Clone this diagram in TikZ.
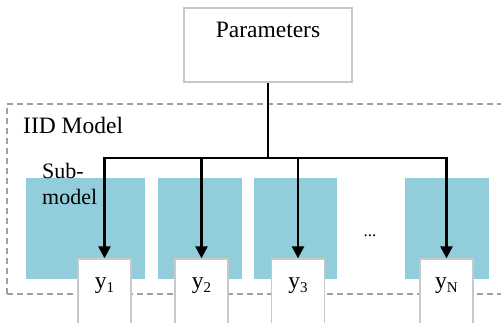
\documentclass[tikz,border=0pt]{standalone}
\usepackage{fontspec}
\setmainfont{Liberation Serif}
\usetikzlibrary{arrows.meta,positioning}
\definecolor{subteal}{HTML}{92CDDC}
\definecolor{boxgray}{HTML}{C8C8C8}
\definecolor{dashgray}{HTML}{A0A0A0}

\begin{document}
\begin{tikzpicture}[
    x=1pt, y=-1pt,
    every node/.style={font=\fontsize{23.5}{28}\selectfont},
    parbox/.style={rectangle, draw=boxgray, line width=1.8pt, fill=white, minimum width=168pt, inner sep=0pt, text height=30pt, text depth=44pt},
    iidbox/.style={rectangle, draw=dashgray, dashed, line width=1.3pt, dash pattern=on 6pt off 4pt, minimum width=498pt, minimum height=190pt, inner sep=0pt},
    subbox/.style={rectangle, fill=subteal, minimum height=101pt, inner sep=0pt},
    obsbox/.style={rectangle, draw=boxgray, line width=1.3pt, fill=white, minimum width=53pt, minimum height=90pt, inner sep=0pt},
    obslabel/.style={anchor=base, inner sep=0pt},
    arrow/.style={-{Triangle[length=12pt,width=12pt]}, line width=2.4pt},
    link/.style={line width=2.4pt}
]
    \useasboundingbox (0,0) rectangle (501,323);
    \clip (0,0) rectangle (501,323);

    % Parameter
    \node[parbox] (params) at (268,45) {Parameters};

    % IID-Modell
    \node[iidbox] (iid) at (256,199) {};
    \node[anchor=base west, inner sep=0pt] (iidlabel) at (23,134) {IID Model};

    % Teilmodelle
    \node[subbox, minimum width=119pt] (sub1) at (85.5,228.5) {};
    \node[subbox, minimum width=84pt] (sub2) at (200,228.5) {};
    \node[subbox, minimum width=83pt] (sub3) at (295.5,228.5) {};
    \node[subbox, minimum width=84pt] (subN) at (447,228.5) {};
    \node[anchor=base west, align=left, inner sep=0pt, font=\fontsize{22}{26}\selectfont] (sublabel) at (42,205) {Sub-\\model};
    \node[font=\fontsize{17}{17}\selectfont] (dots) at (370,236) {...};

    % Beobachtungen
    \node[obsbox] (y1) at (104.5,304) {};
    \node[obsbox] (y2) at (201.5,304) {};
    \node[obsbox] (y3) at (298,304) {};
    \node[obsbox] (yN) at (446.5,304) {};
    \node[obslabel] (y1t) at (104.5,289) {y\raisebox{-0.3ex}{\fontsize{15}{15}\selectfont 1}};
    \node[obslabel] (y2t) at (201.5,289) {y\raisebox{-0.3ex}{\fontsize{15}{15}\selectfont 2}};
    \node[obslabel] (y3t) at (298,289) {y\raisebox{-0.3ex}{\fontsize{15}{15}\selectfont 3}};
    \node[obslabel] (yNt) at (446.5,289) {y\raisebox{-0.3ex}{\fontsize{15}{15}\selectfont N}};

    % Pfeile
    \coordinate (hub) at (268,158);
    \draw[link] (params.south) -- (hub);
    \draw[arrow] (hub) -| (y1.north);
    \draw[arrow] (hub) -| (y2.north);
    \draw[arrow] (hub) -| (y3.north);
    \draw[arrow] (hub) -| (yN.north);
\end{tikzpicture}
\end{document}
